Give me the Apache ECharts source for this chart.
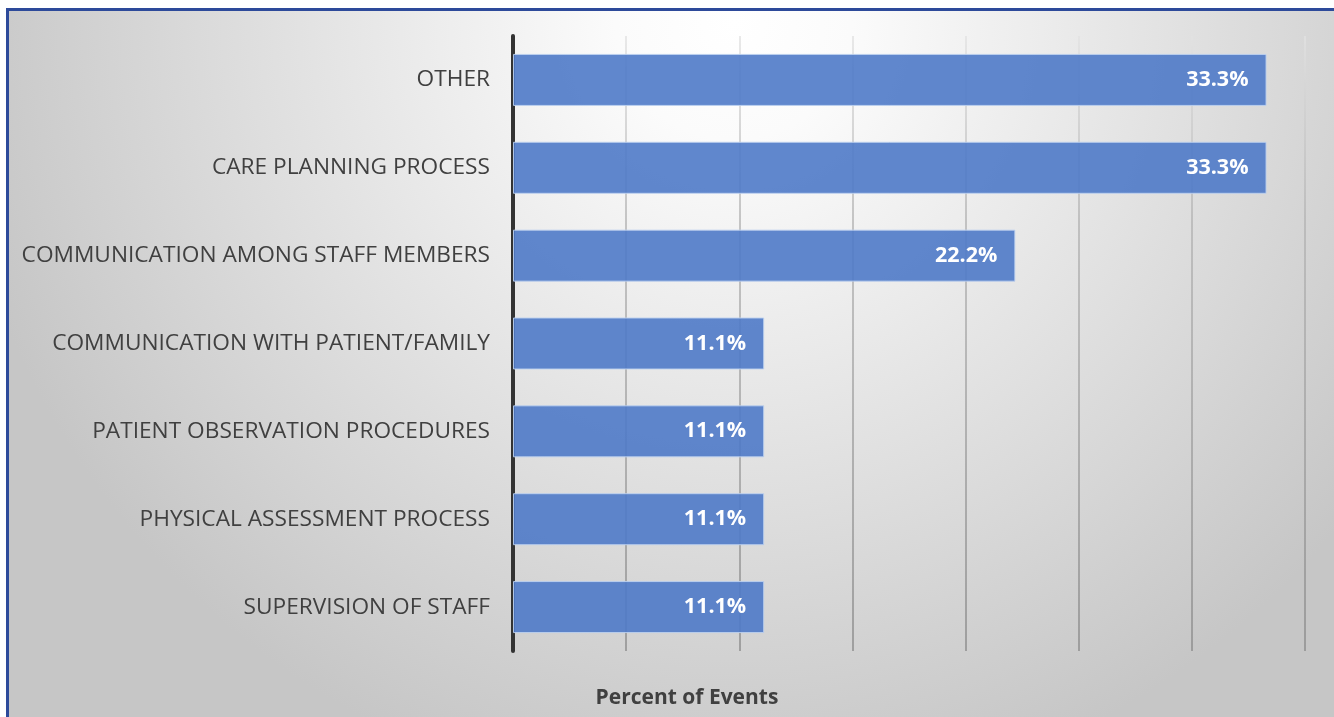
<!DOCTYPE html>
<html>
<head>
<meta charset="utf-8">
<title>Percent of Events</title>
<script src="https://cdn.jsdelivr.net/npm/echarts@6/dist/echarts.min.js"></script>
<style>
    html, body { margin: 0; padding: 0; background: #fff; }
    #main { width: 1334px; height: 717px; }
</style>
</head>
<body>
<div id="main"></div>
<script>
// categories, top to bottom
const categories = [
    'OTHER',
    'CARE PLANNING PROCESS',
    'COMMUNICATION AMONG STAFF MEMBERS',
    'COMMUNICATION WITH PATIENT/FAMILY',
    'PATIENT OBSERVATION PROCEDURES',
    'PHYSICAL ASSESSMENT PROCESS',
    'SUPERVISION OF STAFF'
]
// percent of events
const percents = [33.3, 33.3, 22.2, 11.1, 11.1, 11.1, 11.1]
const axisTitle = 'Percent of Events'

const font = '"Open Sans", "DejaVu Sans", sans-serif'

let myChart = echarts.init(document.querySelector('#main'))

const option = {
    // 背景：顶部偏中间最亮，四周变灰
    backgroundColor: new echarts.graphic.RadialGradient(0.55, 0.03, 1.1, [
        { offset: 0, color: '#ffffff' },
        { offset: 0.15, color: '#fbfbfb' },
        { offset: 1, color: '#c6c6c6' }
    ]),
    animation: false,

    grid: {
        left: 513,
        right: 29,
        top: 36,
        bottom: 66
    },

    xAxis: {
        type: 'value',
        min: 0,
        max: 35,
        interval: 5,
        axisLabel: { show: false },
        axisTick: { show: false },
        axisLine: { show: false },
        splitLine: {
            show: true,
            lineStyle: {
                width: 1.5,
                color: new echarts.graphic.LinearGradient(0, 36, 0, 651, [
                    { offset: 0, color: '#e2e2e2' },
                    { offset: 0.3, color: '#b4b4b4' },
                    { offset: 1, color: '#8e8e8e' }
                ], true)
            }
        }
    },

    yAxis: {
        type: 'category',
        data: categories,
        inverse: true,
        axisTick: { show: false },
        axisLine: {
            show: true,
            lineStyle: { color: '#333333', width: 4 }
        },
        axisLabel: {
            margin: 23,
            color: '#404040',
            fontSize: 22.7,
            fontFamily: font
        }
    },

    series: [
        {
            type: 'bar',
            data: percents,
            barWidth: 52,
            itemStyle: {
                color: 'rgba(79,122,200,0.9)',
                borderColor: 'rgba(190,210,240,0.9)',
                borderWidth: 1
            },
            label: {
                show: true,
                position: 'insideRight',
                distance: 18,
                color: '#ffffff',
                fontSize: 21.5,
                fontWeight: 'bold',
                fontFamily: font,
                formatter: p => p.value.toFixed(1) + '%'
            }
        }
    ],

    graphic: [
        // 外圈白边 + 蓝色边框
        { type: 'rect', shape: { x: 0, y: 0, width: 1334, height: 8 }, style: { fill: '#fff' }, z: 100 },
        { type: 'rect', shape: { x: 0, y: 0, width: 6, height: 717 }, style: { fill: '#fff' }, z: 100 },
        { type: 'rect', shape: { x: 6, y: 8, width: 1328, height: 3 }, style: { fill: '#2d4a9a' }, z: 100 },
        { type: 'rect', shape: { x: 6, y: 8, width: 3, height: 709 }, style: { fill: '#2d4a9a' }, z: 100 },
        {
            type: 'text',
            x: 687,
            y: 698,
            style: {
                text: axisTitle,
                align: 'center',
                verticalAlign: 'middle',
                fill: '#404040',
                font: 'bold 21px ' + font
            },
            z: 100
        }
    ]
}

myChart.setOption(option)
</script>
</body>
</html>
